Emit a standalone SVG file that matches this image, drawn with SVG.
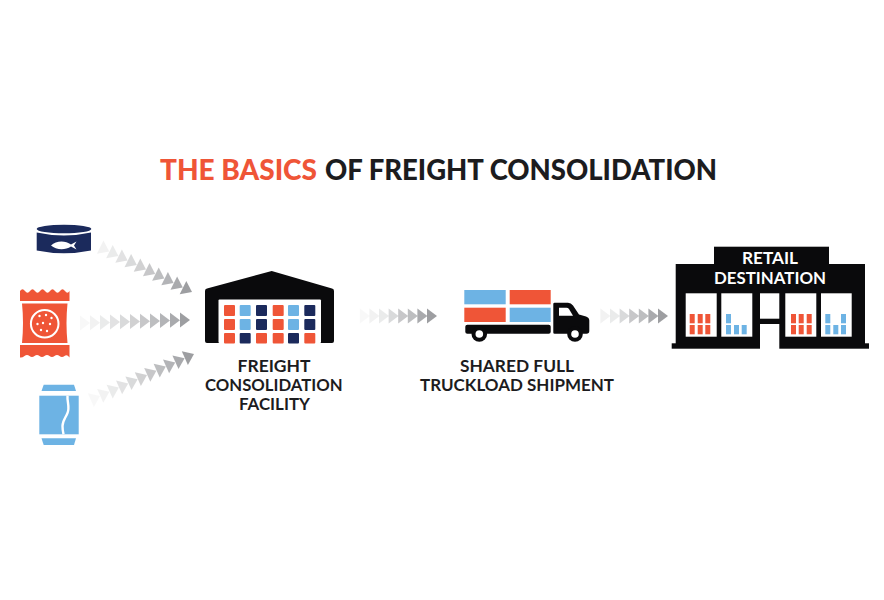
<svg xmlns="http://www.w3.org/2000/svg" width="884" height="600" viewBox="0 0 884 600">
<style>
text{font-family:"Lato","Noto Sans","Liberation Sans",sans-serif;font-weight:700;text-anchor:start}
.t{font-size:28px;font-weight:900}
.l{font-size:17px;fill:#1c1c1e}
.s{font-size:17px;fill:#fff;font-weight:700}
.r{fill:#ef5537}.b{fill:#6db3e4}.n{fill:#1b2a5c}.k{fill:#0a0a0c}.w{fill:#fff}
.a{fill:#85868a}
.a0{opacity:.8}.a1{opacity:.7}.a2{opacity:.62}.a3{opacity:.54}.a4{opacity:.46}.a5{opacity:.38}.a6{opacity:.31}.a7{opacity:.24}.a8{opacity:.17}.a9{opacity:.11}.a10{opacity:.06}
</style>
<defs>
<path id="ar" class="a" d="M-10,-7.500L0,0L-10,7.500Z"/>
</defs>
<rect width="884" height="600" fill="#fff"/>
<g id="title">
<text class="t" x="160" y="179.500" fill="#ef5537" textLength="157" lengthAdjust="spacingAndGlyphs">THE BASICS</text>
<text class="t" x="325" y="179.500" fill="#1c1c1e" textLength="392" lengthAdjust="spacingAndGlyphs">OF FREIGHT CONSOLIDATION</text>
</g>
<g id="connectors">
<g id="flow-can">
<use href="#ar" class="a0" transform="translate(192,292) rotate(26)"/><use href="#ar" class="a1" transform="translate(182.800,287.500) rotate(26)"/><use href="#ar" class="a2" transform="translate(173.600,283) rotate(26)"/><use href="#ar" class="a3" transform="translate(164.400,278.500) rotate(26)"/><use href="#ar" class="a4" transform="translate(155.200,274) rotate(26)"/><use href="#ar" class="a5" transform="translate(146,269.500) rotate(26)"/><use href="#ar" class="a6" transform="translate(136.800,265) rotate(26)"/><use href="#ar" class="a7" transform="translate(127.600,260.500) rotate(26)"/><use href="#ar" class="a8" transform="translate(118.400,256) rotate(26)"/><use href="#ar" class="a9" transform="translate(109.200,251.500) rotate(26)"/>
</g>
<g id="flow-snack">
<use href="#ar" class="a0" transform="translate(190,320)"/><use href="#ar" class="a1" transform="translate(180,320.300)"/><use href="#ar" class="a2" transform="translate(170,320.600)"/><use href="#ar" class="a3" transform="translate(160,320.900)"/><use href="#ar" class="a4" transform="translate(150,321.200)"/><use href="#ar" class="a5" transform="translate(140,321.500)"/><use href="#ar" class="a6" transform="translate(130,321.800)"/><use href="#ar" class="a7" transform="translate(120,322.100)"/><use href="#ar" class="a8" transform="translate(110,322.400)"/><use href="#ar" class="a9" transform="translate(100,322.700)"/><use href="#ar" class="a10" transform="translate(90,323)"/>
</g>
<g id="flow-soda">
<use href="#ar" class="a0" transform="translate(194,354) rotate(-24)"/><use href="#ar" class="a1" transform="translate(184.600,358.200) rotate(-24)"/><use href="#ar" class="a2" transform="translate(175.200,362.400) rotate(-24)"/><use href="#ar" class="a3" transform="translate(165.800,366.600) rotate(-24)"/><use href="#ar" class="a4" transform="translate(156.400,370.800) rotate(-24)"/><use href="#ar" class="a5" transform="translate(147,375) rotate(-24)"/><use href="#ar" class="a6" transform="translate(137.600,379.200) rotate(-24)"/><use href="#ar" class="a7" transform="translate(128.200,383.400) rotate(-24)"/><use href="#ar" class="a8" transform="translate(118.800,387.600) rotate(-24)"/><use href="#ar" class="a9" transform="translate(109.400,391.800) rotate(-24)"/><use href="#ar" class="a10" transform="translate(100,396) rotate(-24)"/>
</g>
<g id="flow-truck">
<use href="#ar" class="a0" transform="translate(437,316)"/><use href="#ar" class="a1" transform="translate(427.400,316)"/><use href="#ar" class="a3" transform="translate(417.800,316)"/><use href="#ar" class="a4" transform="translate(408.200,316)"/><use href="#ar" class="a6" transform="translate(398.600,316)"/><use href="#ar" class="a8" transform="translate(389,316)"/><use href="#ar" class="a9" transform="translate(379.400,316)"/><use href="#ar" class="a10" transform="translate(369.800,316)"/>
</g>
<g id="flow-store">
<use href="#ar" class="a0" transform="translate(668,316)"/><use href="#ar" class="a1" transform="translate(658.400,316)"/><use href="#ar" class="a3" transform="translate(648.800,316)"/><use href="#ar" class="a4" transform="translate(639.200,316)"/><use href="#ar" class="a6" transform="translate(629.600,316)"/><use href="#ar" class="a8" transform="translate(620,316)"/><use href="#ar" class="a9" transform="translate(610.400,316)"/>
</g>
</g>
<g id="can">
<ellipse class="n" cx="64" cy="229" rx="27.300" ry="4.300"/>
<path class="n" d="M36.700,232.500Q64,238.500 91,232.500V250.500Q64,256 36.700,250.500Z"/>
<path class="w" d="M51,245.500C56,240.500 65,240 71,244.500L76.500,241.500L74,245.500L76.500,249.500L71,246.500C65,250.500 56,250 51,245.500Z"/>
</g>
<g id="snack">
<path class="r" d="M20,291Q22.500,287.500 25,291T30,291T35,291T40,291T45,291T50,291T55,291T60,291T65,291T69.500,291V301H20Z"/>
<path class="r" d="M22,303.500H67.500Q65.500,323 67.500,343H22Q24,323 22,303.500Z"/>
<path class="r" d="M20,345H69.500V357.500Q67,354 64.500,356T59.500,356T54.500,356T49.500,356T44.500,356T39.500,356T34.500,356T29.500,356T24.500,356T20,357.500Z"/>
<circle cx="44.700" cy="323.700" r="13.800" fill="none" stroke="#fff" stroke-width="2"/>
<g class="w"><circle cx="39.500" cy="316" r="1.200"/><circle cx="46" cy="315" r="1.200"/><circle cx="51.500" cy="318" r="1.200"/><circle cx="37.500" cy="324" r="1.200"/><circle cx="43" cy="323" r="1.200"/><circle cx="50" cy="324" r="1.200"/><circle cx="41" cy="330" r="1.200"/><circle cx="47" cy="331" r="1.200"/></g>
</g>
<g id="soda">
<path class="b" d="M43.700,384.700H74L76,391H41.500Z"/>
<rect class="b" x="39.300" y="395.700" width="39.400" height="38.600"/>
<path class="b" d="M41.500,438.300H76L74,445H43.700Z"/>
<path d="M67.500,395.700C67,402 70,407 67.500,413C65.500,418 62.500,421 62.500,426C62.500,429 63,432 63.500,434.300" fill="none" stroke="#fff" stroke-width="2.400"/>
</g>
<g id="facility">
<path class="k" d="M205,291Q205,289 207,288.600L271.700,271L332,288.600Q334,289 334,291V341Q334,343 332,343H207Q205,343 205,341Z"/>
<rect class="w" x="218.500" y="299.500" width="102.500" height="43.500" rx="1"/>
<g>
<rect class="r" x="224" y="305" width="11" height="11" rx="1"/><rect class="b" x="239.700" y="305" width="11" height="11" rx="1"/><rect class="n" x="256" y="305" width="11" height="11" rx="1"/><rect class="r" x="272.700" y="305" width="11" height="11" rx="1"/><rect class="b" x="288" y="305" width="11" height="11" rx="1"/><rect class="n" x="304.300" y="305" width="11" height="11" rx="1"/>
<rect class="r" x="224" y="319" width="11" height="11" rx="1"/><rect class="b" x="239.700" y="319" width="11" height="11" rx="1"/><rect class="n" x="256" y="319" width="11" height="11" rx="1"/><rect class="r" x="272.700" y="319" width="11" height="11" rx="1"/><rect class="b" x="288" y="319" width="11" height="11" rx="1"/><rect class="n" x="304.300" y="319" width="11" height="11" rx="1"/>
<rect class="r" x="224" y="333" width="11" height="10.500" rx="1"/><rect class="n" x="239.700" y="333" width="11" height="10.500" rx="1"/><rect class="r" x="256" y="333" width="11" height="10.500" rx="1"/><rect class="r" x="272.700" y="333" width="11" height="10.500" rx="1"/><rect class="n" x="288" y="333" width="11" height="10.500" rx="1"/><rect class="r" x="304.300" y="333" width="11" height="10.500" rx="1"/>
</g>
<text class="l" x="237.500" y="372" textLength="73" lengthAdjust="spacingAndGlyphs">FREIGHT</text>
<text class="l" x="205" y="391" textLength="137.500" lengthAdjust="spacingAndGlyphs">CONSOLIDATION</text>
<text class="l" x="239" y="410" textLength="71" lengthAdjust="spacingAndGlyphs">FACILITY</text>
</g>
<g id="truck">
<rect class="b" x="464.300" y="290" width="41.400" height="14.300"/>
<rect class="r" x="509.700" y="290" width="41" height="14.300"/>
<rect class="r" x="464.300" y="307.700" width="41.400" height="14.300"/>
<rect class="b" x="509.700" y="307.700" width="41" height="14.300"/>
<rect class="k" x="465.300" y="324.700" width="85.400" height="9" rx="2"/>
<path class="k" d="M553.300,304Q553.300,302.700 554.600,302.700H568Q571,302.700 573,305.500L579,314.500L586,316.500Q589.300,317.500 589.300,320.500V331Q589.300,333.700 586.500,333.700H554.600Q553.300,333.700 553.300,332.400Z"/>
<path class="w" d="M559,307.700H566.500Q568,307.700 569,309L573,315.700H559Z"/>
<circle class="k" cx="479.300" cy="334" r="7.800"/><circle class="w" cx="479.300" cy="334" r="3.800"/>
<circle class="k" cx="575" cy="334" r="7.800"/><circle class="w" cx="575" cy="334" r="3.800"/>
<text class="l" x="460" y="372" textLength="114" lengthAdjust="spacingAndGlyphs">SHARED FULL</text>
<text class="l" x="420" y="391" textLength="194" lengthAdjust="spacingAndGlyphs">TRUCKLOAD SHIPMENT</text>
</g>
<g id="store">
<rect class="k" x="714" y="246.700" width="115" height="20"/>
<rect class="k" x="675.700" y="264" width="189.300" height="82"/>
<rect class="k" x="671.700" y="343.300" width="197.300" height="5.400"/>
<rect class="w" x="760" y="293.300" width="19.300" height="25.400"/>
<rect class="w" x="760" y="324" width="19.300" height="25"/>
<rect class="w" x="685.700" y="293.300" width="31" height="43.400"/>
<rect class="w" x="721.300" y="293.300" width="31" height="43.400"/>
<rect class="w" x="785.300" y="293.300" width="31" height="43.400"/>
<rect class="w" x="821" y="293.300" width="30.700" height="43.400"/>
<g class="r">
<rect x="689.700" y="314" width="5" height="9.300"/><rect x="697.700" y="314" width="5" height="9.300"/><rect x="705.300" y="314" width="5" height="9.300"/><rect x="689.700" y="325" width="5" height="9.300"/><rect x="697.700" y="325" width="5" height="9.300"/><rect x="705.300" y="325" width="5" height="9.300"/>
<rect x="791" y="314" width="5" height="9.300"/><rect x="798.700" y="314" width="5" height="9.300"/><rect x="806.700" y="314" width="5" height="9.300"/><rect x="791" y="325" width="5" height="9.300"/><rect x="798.700" y="325" width="5" height="9.300"/><rect x="806.700" y="325" width="5" height="9.300"/>
</g>
<g class="b">
<rect x="726" y="314" width="5" height="9.300"/><rect x="726" y="325" width="5" height="9.300"/><rect x="734" y="325" width="5" height="9.300"/><rect x="741.700" y="325" width="5" height="9.300"/>
<rect x="825.300" y="314" width="5" height="9.300"/><rect x="825.300" y="325" width="5" height="9.300"/><rect x="833.300" y="325" width="5" height="9.300"/><rect x="841" y="314" width="5" height="9.300"/><rect x="841" y="325" width="5" height="9.300"/>
</g>
<text class="s" x="742" y="264" textLength="56" lengthAdjust="spacingAndGlyphs">RETAIL</text>
<text class="s" x="714" y="283.500" textLength="112" lengthAdjust="spacingAndGlyphs">DESTINATION</text>
</g>
</svg>
